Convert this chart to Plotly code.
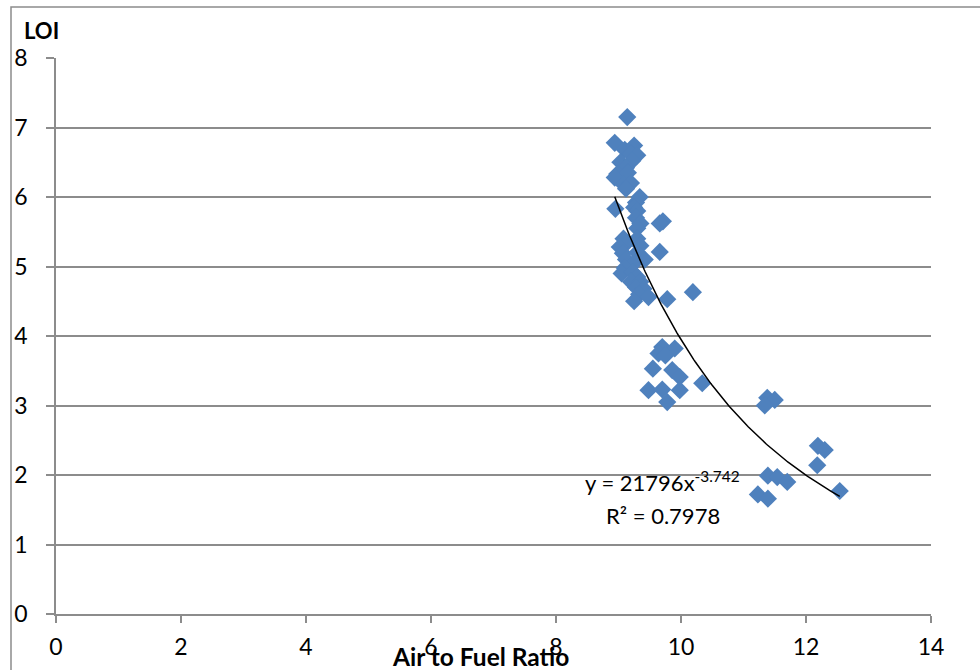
import numpy as np
import plotly.graph_objects as go

# Scatter data: Air to Fuel Ratio vs LOI
afr = [9.14, 8.94, 9.10, 9.25, 9.20, 9.30, 9.03, 9.22, 9.12, 8.98, 8.94, 9.15, 9.08, 9.20,
       9.12, 9.34, 9.28, 8.95, 9.25, 9.30, 9.71, 9.66, 9.28, 9.35, 9.30, 9.08, 9.30, 9.12,
       9.02, 9.35, 9.66, 9.07, 9.30, 9.12, 9.42, 9.25, 9.10, 9.05, 9.22, 9.30, 9.20, 9.35,
       9.28, 9.40, 9.33, 9.48, 9.25, 9.78, 10.19,
       9.70, 9.90, 9.64, 9.75, 9.55, 9.86, 9.98, 10.34, 9.48, 9.70, 9.98, 9.78,
       11.38, 11.50, 11.34, 12.19, 12.30, 12.18, 11.39, 11.54, 11.70, 11.23, 11.39, 12.54]
loi = [7.15, 6.78, 6.68, 6.74, 6.62, 6.60, 6.50, 6.52, 6.42, 6.33, 6.28, 6.35, 6.18, 6.20,
       6.12, 6.00, 5.92, 5.83, 5.85, 5.80, 5.65, 5.62, 5.70, 5.62, 5.55, 5.40, 5.40, 5.33,
       5.28, 5.30, 5.21, 5.19, 5.20, 5.10, 5.10, 5.05, 4.98, 4.90, 4.92, 4.85, 4.78, 4.78,
       4.70, 4.68, 4.60, 4.56, 4.50, 4.53, 4.63,
       3.84, 3.82, 3.75, 3.72, 3.53, 3.51, 3.41, 3.32, 3.22, 3.23, 3.22, 3.05,
       3.11, 3.08, 3.00, 2.42, 2.36, 2.14, 1.99, 1.97, 1.90, 1.72, 1.66, 1.77]

# Power trendline coefficients as displayed
coef_a = 21796
coef_b = -3.742
r2 = 0.7978

x_ticks = [0, 2, 4, 6, 8, 10, 12, 14]
y_ticks = [0, 1, 2, 3, 4, 5, 6, 7, 8]

FONT = "Lato"
GRID = "#8c8c8c"

xt = np.linspace(min(afr), max(afr), 200)
yt = coef_a * xt ** coef_b

fig = go.Figure()
fig.add_trace(go.Scatter(
    x=afr, y=loi, mode="markers",
    marker=dict(symbol="diamond", size=14, color="#4F81BD", line=dict(width=0)),
    showlegend=False))
fig.add_trace(go.Scatter(
    x=xt, y=yt, mode="lines", line=dict(color="black", width=1.5), showlegend=False))

fig.update_layout(
    width=980, height=670,
    margin=dict(l=56, r=49, t=58, b=56, autoexpand=False),
    paper_bgcolor="white", plot_bgcolor="white",
    font=dict(family=FONT, size=23, color="black"),
    xaxis=dict(range=[0, 14], tickvals=x_ticks, showgrid=False, zeroline=False,
               showline=True, linecolor=GRID, linewidth=1.5, automargin=False,
               ticks="outside", ticklen=7, tickcolor=GRID, tickwidth=1.5,
               ticklabelstandoff=5, tickfont=dict(size=23)),
    yaxis=dict(range=[0, 8], tickvals=y_ticks, showgrid=True, gridcolor=GRID, gridwidth=1.5,
               zeroline=False, showline=True, linecolor=GRID, linewidth=1.5, automargin=False,
               ticks="outside", ticklen=8, tickcolor=GRID, tickwidth=1.5,
               ticklabelstandoff=14, tickfont=dict(size=23)),
    shapes=[dict(type="rect", xref="paper", yref="paper",
                 x0=(11 - 56) / 875, x1=(1000 - 56) / 875,
                 y0=(614 - 700) / 556, y1=(614 - 7) / 556,
                 line=dict(color=GRID, width=1.5), fillcolor="rgba(0,0,0,0)", layer="below")],
    annotations=[
        dict(text="<b>LOI</b>", xref="paper", yref="paper",
             x=(22 - 56) / 875, y=(614 - 30) / 556, xanchor="left", yanchor="middle",
             showarrow=False, font=dict(size=22)),
        dict(text="<b>Air to Fuel Ratio</b>", xref="paper", yref="paper",
             x=(480 - 56) / 875, y=(614 - 656) / 556, xanchor="center", yanchor="middle",
             showarrow=False, font=dict(size=24.5)),
        dict(text=f"y = {coef_a}x<sup>{coef_b}</sup>", xref="x", yref="y",
             x=9.71, y=1.90, xanchor="center", yanchor="middle",
             showarrow=False, font=dict(size=22)),
        dict(text=f"R² = {r2}", xref="x", yref="y",
             x=9.71, y=1.42, xanchor="center", yanchor="middle",
             showarrow=False, font=dict(size=22)),
    ],
)

fig.write_html("out.html")
